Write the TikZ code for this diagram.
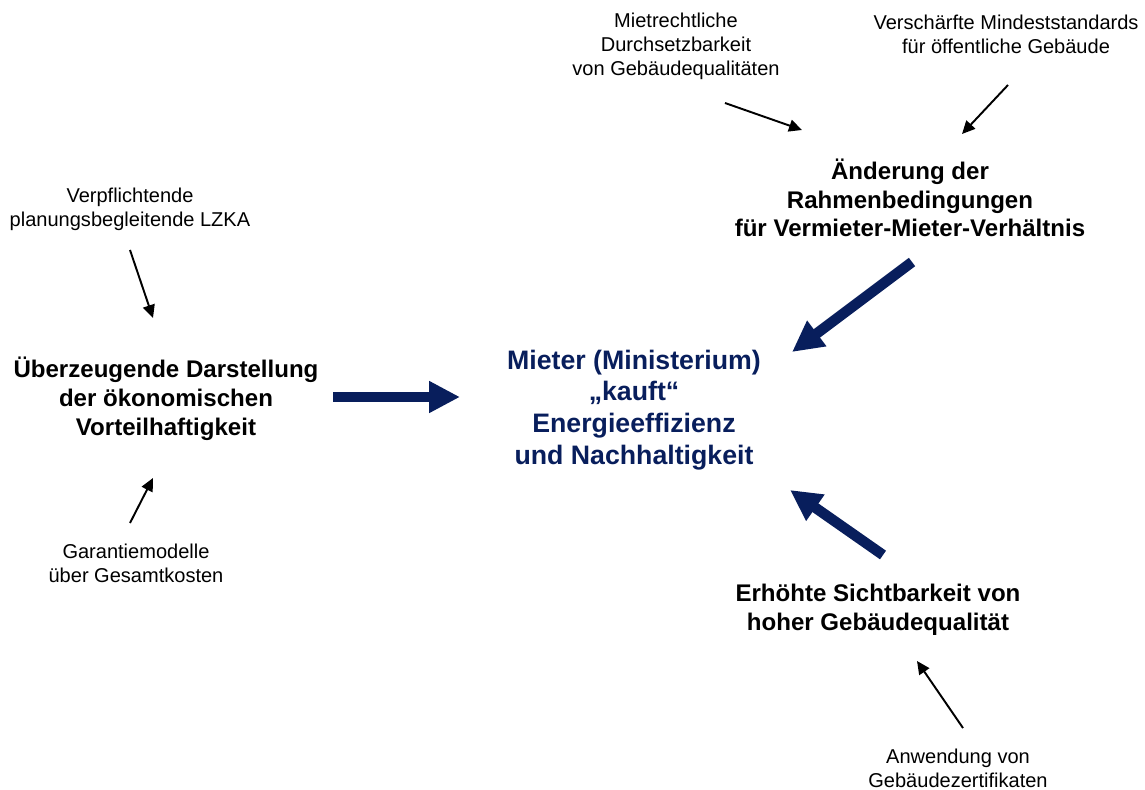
\documentclass[tikz,border=0pt]{standalone}
\usepackage{fontspec}
\setmainfont{Liberation Sans}
\usetikzlibrary{arrows.meta}
\definecolor{navy}{RGB}{8,30,92}

\begin{document}
\begin{tikzpicture}[x=0.02cm,y=-0.02cm,
    every node/.style={align=center,inner sep=0pt},
    mainbox/.style={font=\fontsize{13.7}{16.4}\selectfont\bfseries},
    centerbox/.style={font=\fontsize{15.2}{18.1}\selectfont\bfseries,text=navy},
    smallbox/.style={font=\fontsize{11.4}{13.6}\selectfont},
    bigarrow/.style={navy,line width=0.21cm,-{Triangle[length=0.62cm,width=0.6cm]}},
    thinarrow/.style={line width=1.1pt,-{Triangle[length=2.6mm,width=2.4mm]}}]
      \useasboundingbox (0,0) rectangle (1145,790);
      % text blocks
      \node[smallbox] (lzka) at (130,209) {Verpflichtende\\planungsbegleitende LZKA};
      \node[mainbox] (vorteil) at (166,399) {Überzeugende Darstellung\\der ökonomischen\\Vorteilhaftigkeit};
      \node[smallbox] (garantie) at (136,563) {Garantiemodelle\\über Gesamtkosten};
      \node[centerbox] (mieter) at (634,410) {Mieter (Ministerium)\\„kauft“\\Energieeffizienz\\und Nachhaltigkeit};
      \node[smallbox] (mietrecht) at (676,46) {Mietrechtliche\\Durchsetzbarkeit\\von Gebäudequalitäten};
      \node[smallbox] (standards) at (1006,34) {Verschärfte Mindeststandards\\für öffentliche Gebäude};
      \node[mainbox] (rahmen) at (910,198) {Änderung der\\Rahmenbedingungen\\für Vermieter-Mieter-Verhältnis};
      \node[mainbox] (sicht) at (878,610) {Erhöhte Sichtbarkeit von\\hoher Gebäudequalität};
      \node[smallbox] (zert) at (958,768) {Anwendung von\\Gebäudezertifikaten};
      % arrow ends
      \coordinate (lzka-s) at (130,250);   \coordinate (lzka-e) at (153,318);
      \coordinate (gar-s) at (130,523);    \coordinate (gar-e) at (153,478);
      \coordinate (mr-s) at (725,103);     \coordinate (mr-e) at (802,130);
      \coordinate (st-s) at (1008,85);     \coordinate (st-e) at (962,134);
      \coordinate (zert-s) at (963,728);   \coordinate (zert-e) at (917,661);
      \coordinate (vort-s) at (333,397);   \coordinate (vort-e) at (460,397);
      \coordinate (rahm-s) at (912,262);   \coordinate (rahm-e) at (792,352);
      \coordinate (sicht-s) at (883,555);  \coordinate (sicht-e) at (790,490);
      % connectors
      \draw[thinarrow] (lzka-s)--(lzka-e);
      \draw[thinarrow] (gar-s)--(gar-e);
      \draw[thinarrow] (mr-s)--(mr-e);
      \draw[thinarrow] (st-s)--(st-e);
      \draw[thinarrow] (zert-s)--(zert-e);
      \draw[bigarrow] (vort-s)--(vort-e);
      \draw[bigarrow] (rahm-s)--(rahm-e);
      \draw[bigarrow] (sicht-s)--(sicht-e);
    \end{tikzpicture}
\end{document}
